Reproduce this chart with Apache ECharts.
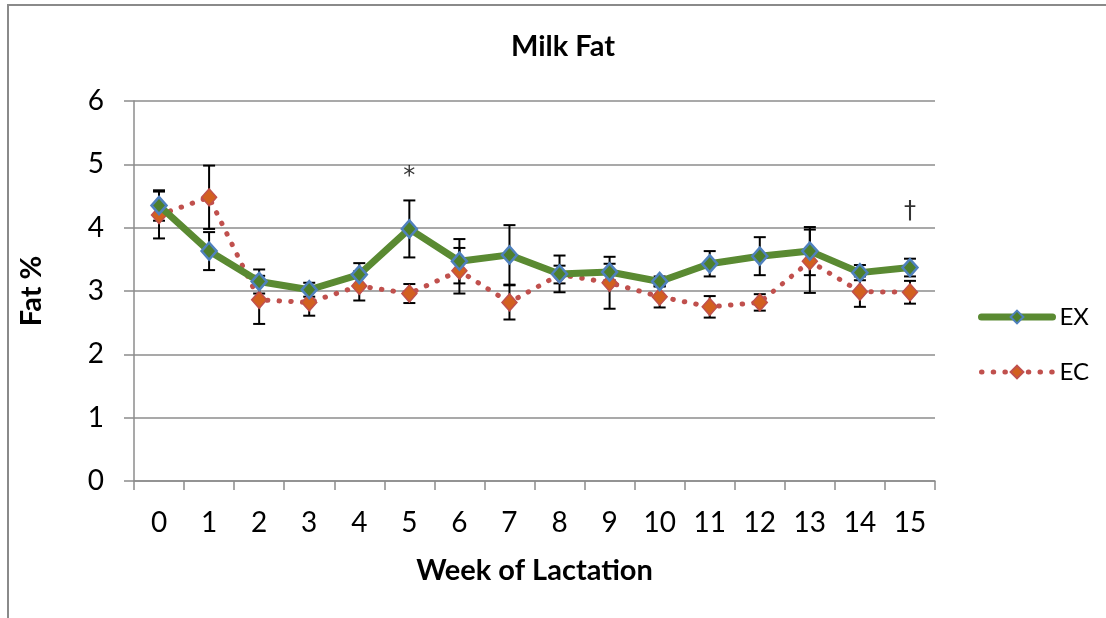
<!DOCTYPE html>
<html>
<head>
<meta charset="utf-8">
<script src="https://cdn.jsdelivr.net/npm/echarts@6/dist/echarts.min.js"></script>
<style>html,body{margin:0;padding:0;background:#fff}#c{width:1106px;height:618px}</style>
</head>
<body>
<div id="c"></div>
<script>
var weeks = ['0','1','2','3','4','5','6','7','8','9','10','11','12','13','14','15'];
var exMean = [4.35,3.63,3.15,3.02,3.26,3.98,3.47,3.57,3.27,3.30,3.15,3.43,3.55,3.63,3.29,3.37];
var exErr  = [0.24,0.30,0.19,0.11,0.18,0.45,0.35,0.47,0.29,0.13,0.08,0.20,0.30,0.38,0.12,0.14];
var ecMean = [4.20,4.48,2.86,2.82,3.08,2.96,3.32,2.82,3.26,3.13,2.91,2.75,2.82,3.47,2.99,2.98];
var ecErr  = [0.37,0.50,0.38,0.21,0.23,0.15,0.36,0.27,0.14,0.41,0.17,0.17,0.13,0.50,0.24,0.18];
var annotWeeks = ['5','15'];
var annotY = [4.80,4.25];
var annotText = ['*','\u2020'];
var yTicks = [0,1,2,3,4,5,6];

var FONT = 'Lato';
function errData(mean, err){
  return mean.map(function(m,i){ return [i, m, err[i]]; });
}
function errRender(params, api){
  var i = api.value(0), m = api.value(1), e = api.value(2);
  var top = api.coord([i, m + e]);
  var bot = api.coord([i, m - e]);
  var hw = 6;
  var st = {stroke:'#000', lineWidth:2};
  return {type:'group', children:[
    {type:'line', shape:{x1:top[0],y1:top[1],x2:bot[0],y2:bot[1]}, style:st},
    {type:'line', shape:{x1:top[0]-hw,y1:top[1],x2:top[0]+hw,y2:top[1]}, style:st},
    {type:'line', shape:{x1:bot[0]-hw,y1:bot[1],x2:bot[0]+hw,y2:bot[1]}, style:st}
  ]};
}
var chart = echarts.init(document.getElementById('c'), null, {renderer:'canvas'});
chart.setOption({
  animation:false,
  backgroundColor:'#fff',
  graphic:[{type:'rect', z:-10, shape:{x:8, y:5, width:1200, height:700}, style:{fill:'none', stroke:'#8a8a8a', lineWidth:2}}],
  title:{text:'Milk Fat', left:558, textAlign:'center', top:27, textStyle:{fontFamily:FONT, fontWeight:'bold', fontSize:29, color:'#000'}},
  legend:{orient:'vertical', left:978, top:305, padding:0, itemWidth:71, itemHeight:16, itemGap:31,
    data:['EX','EC'],
    lineStyle:{width:'inherit'},
    textStyle:{fontFamily:FONT, fontSize:24, color:'#000', padding:[0,0,0,2]}},
  grid:{left:134, right:171, top:101, bottom:137, containLabel:false},
  xAxis:{type:'category', data:weeks, boundaryGap:true,
    name:'Week of Lactation', nameLocation:'middle', nameGap:75,
    nameTextStyle:{fontFamily:FONT, fontWeight:'bold', fontSize:29, color:'#000'},
    axisLine:{lineStyle:{color:'#8c8c8c', width:1.5}},
    axisTick:{show:true, alignWithLabel:false, length:9, lineStyle:{color:'#8c8c8c', width:1.5}},
    axisLabel:{fontFamily:FONT, fontSize:28, color:'#000', margin:28, interval:0}},
  yAxis:{type:'value', min:0, max:6, interval:1,
    name:'Fat %', nameLocation:'middle', nameGap:88,
    nameTextStyle:{fontFamily:FONT, fontWeight:'bold', fontSize:29, color:'#000'},
    axisLine:{show:true, lineStyle:{color:'#8c8c8c', width:1.5}},
    axisTick:{show:true, length:10, lineStyle:{color:'#8c8c8c', width:1.5}},
    axisLabel:{fontFamily:FONT, fontSize:28, color:'#000', margin:30,
      formatter:function(v){ return yTicks.indexOf(v) >= 0 ? String(v) : ''; }},
    splitLine:{show:true, lineStyle:{color:'#8c8c8c', width:1.5}}},
  series:[
    {name:'EX err', type:'custom', renderItem:errRender, data:errData(exMean, exErr), encode:{x:0, y:1}, z:2, silent:true},
    {name:'EC err', type:'custom', renderItem:errRender, data:errData(ecMean, ecErr), encode:{x:0, y:1}, z:2, silent:true},
    {name:'EC', type:'line', data:ecMean, z:3,
      lineStyle:{color:'#C0504D', width:5, type:[0.5,11.2], cap:'round'},
      symbol:'diamond', symbolSize:[15,17],
      itemStyle:{color:'#D2601F', borderColor:'#C0504D', borderWidth:1.5}},
    {name:'EX', type:'line', data:exMean, z:4,
      lineStyle:{color:'#5A8A32', width:7, cap:'round'},
      symbol:'diamond', symbolSize:[15,17],
      itemStyle:{color:'#4E7F2C', borderColor:'#4F81BD', borderWidth:2.5}},
    {name:'annot', type:'scatter', z:5, symbolSize:0, silent:true,
      data:annotWeeks.map(function(w,i){ return {value:[w, annotY[i]], label:{formatter:annotText[i]}}; }),
      label:{show:true, position:'inside', fontFamily:'DejaVu Sans', fontSize:24, color:'#000'}}
  ]
});
</script>
</body>
</html>
